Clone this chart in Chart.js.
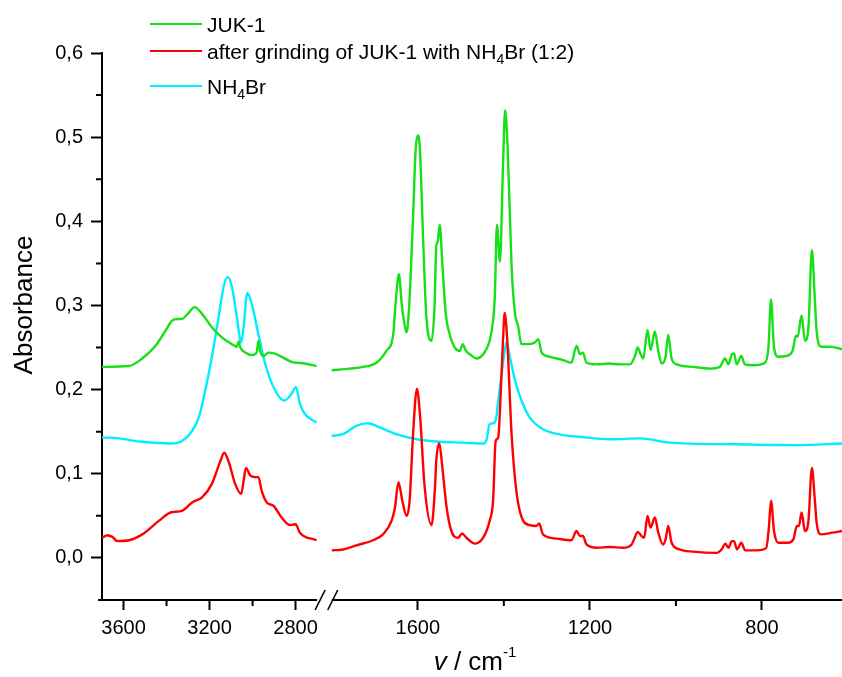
<!DOCTYPE html>
<html>
<head>
<meta charset="utf-8">
<script src="https://cdn.jsdelivr.net/npm/chart.js@4.4.1/dist/chart.umd.min.js"></script>
<style>
  html, body { margin: 0; padding: 0; background: #fff; }
  #wrap { width: 842px; height: 677px; }
</style>
</head>
<body>
<div id="wrap"><canvas id="irChart" width="842" height="677"></canvas></div>
<script>
// x axis is broken: two wavenumber ranges (cm-1), left one drawn at half scale
const leftRange = [3700, 2700];
const rightRange = [1800, 614];
const majorTicks = [3600, 3200, 2800, 1600, 1200, 800];
const minorTicks = [3400, 3000, 1400, 1000];
const yTicks = [0, 0.1, 0.2, 0.3, 0.4, 0.5, 0.6];
const yMinorTicks = [0.05, 0.15, 0.25, 0.35, 0.45, 0.55];

const seriesLabels = ['JUK-1', 'after grinding of JUK-1 with NH_4Br (1:2)', 'NH_4Br'];
const seriesColors = ['#18e018', '#ff0000', '#00eeff'];

// JUK-1
const jukWn = [3700, 3575, 3513, 3451, 3405, 3374, 3350, 3328, 3305, 3269, 3235, 3189, 3143, 3096, 3073, 3065, 3057, 3034, 3004, 2981, 2973, 2965, 2950, 2926, 2900, 2865, 2819, 2757, 2703,
  1800, 1758, 1727, 1696, 1673, 1657, 1652, 1644, 1637, 1630, 1626, 1620, 1611, 1605, 1600, 1595, 1588, 1580, 1568, 1561, 1557, 1554, 1549, 1543, 1535, 1526, 1514, 1502, 1496, 1488, 1479, 1463, 1448, 1433, 1425, 1421, 1416, 1409, 1402, 1397, 1391, 1382, 1374, 1367, 1359, 1347, 1328, 1320, 1312, 1293, 1262, 1243, 1231, 1223, 1216, 1208, 1184, 1157, 1130, 1107, 1095, 1089, 1082, 1076, 1066, 1059, 1049, 1041, 1033, 1024, 1018, 1010, 998, 960, 921, 898, 886, 878, 870, 865, 859, 848, 840, 820, 793, 785, 779, 772, 762, 743, 729, 721, 717, 708, 700, 692, 684, 677, 673, 663, 642, 614];
const jukAbs = [0.227, 0.228, 0.237, 0.252, 0.270, 0.282, 0.284, 0.284, 0.289, 0.298, 0.290, 0.274, 0.262, 0.254, 0.251, 0.257, 0.250, 0.244, 0.241, 0.244, 0.258, 0.246, 0.240, 0.244, 0.243, 0.239, 0.233, 0.231, 0.228,
  0.223, 0.225, 0.227, 0.232, 0.246, 0.266, 0.300, 0.337, 0.300, 0.275, 0.268, 0.300, 0.405, 0.485, 0.502, 0.485, 0.385, 0.286, 0.258, 0.300, 0.371, 0.375, 0.396, 0.350, 0.290, 0.266, 0.250, 0.246, 0.254, 0.246, 0.242, 0.237, 0.242, 0.258, 0.282, 0.310, 0.396, 0.352, 0.465, 0.532, 0.485, 0.346, 0.290, 0.276, 0.254, 0.254, 0.256, 0.260, 0.244, 0.239, 0.235, 0.232, 0.252, 0.242, 0.244, 0.232, 0.230, 0.231, 0.230, 0.230, 0.240, 0.250, 0.242, 0.237, 0.271, 0.247, 0.269, 0.246, 0.231, 0.239, 0.265, 0.237, 0.230, 0.227, 0.225, 0.227, 0.237, 0.230, 0.242, 0.243, 0.230, 0.240, 0.230, 0.229, 0.232, 0.250, 0.307, 0.250, 0.239, 0.240, 0.246, 0.264, 0.263, 0.288, 0.258, 0.274, 0.366, 0.306, 0.270, 0.251, 0.251, 0.248];

// after grinding with NH4Br
const mixWn = [3700, 3675, 3652, 3629, 3575, 3513, 3436, 3381, 3328, 3281, 3235, 3189, 3150, 3132, 3112, 3081, 3053, 3042, 3031, 3011, 2988, 2973, 2958, 2934, 2903, 2865, 2826, 2800, 2780, 2703,
  1800, 1774, 1743, 1704, 1681, 1661, 1653, 1645, 1636, 1626, 1619, 1611, 1602, 1595, 1584, 1568, 1560, 1557, 1550, 1543, 1533, 1522, 1506, 1497, 1487, 1467, 1448, 1433, 1425, 1419, 1413, 1408, 1402, 1398, 1392, 1382, 1370, 1355, 1340, 1324, 1318, 1309, 1277, 1243, 1231, 1223, 1216, 1208, 1184, 1153, 1123, 1103, 1095, 1089, 1080, 1074, 1066, 1059, 1049, 1041, 1030, 1024, 1018, 1010, 991, 960, 905, 894, 885, 878, 870, 865, 858, 848, 839, 812, 790, 784, 779, 772, 762, 740, 727, 719, 714, 708, 700, 692, 684, 677, 673, 663, 637, 614];
const mixAbs = [0.024, 0.027, 0.025, 0.020, 0.021, 0.028, 0.044, 0.054, 0.056, 0.066, 0.072, 0.088, 0.115, 0.125, 0.115, 0.088, 0.076, 0.091, 0.107, 0.098, 0.096, 0.096, 0.080, 0.066, 0.062, 0.048, 0.039, 0.040, 0.030, 0.021,
  0.009, 0.010, 0.015, 0.021, 0.028, 0.044, 0.060, 0.090, 0.068, 0.050, 0.068, 0.147, 0.201, 0.171, 0.084, 0.039, 0.084, 0.116, 0.136, 0.108, 0.060, 0.032, 0.024, 0.029, 0.024, 0.017, 0.024, 0.044, 0.068, 0.139, 0.143, 0.187, 0.258, 0.291, 0.258, 0.147, 0.076, 0.044, 0.039, 0.038, 0.041, 0.028, 0.023, 0.021, 0.032, 0.026, 0.026, 0.016, 0.012, 0.013, 0.012, 0.016, 0.025, 0.031, 0.026, 0.024, 0.050, 0.036, 0.048, 0.030, 0.016, 0.022, 0.038, 0.018, 0.010, 0.0075, 0.006, 0.010, 0.017, 0.012, 0.020, 0.020, 0.010, 0.018, 0.009, 0.009, 0.012, 0.036, 0.068, 0.032, 0.018, 0.018, 0.022, 0.038, 0.038, 0.054, 0.032, 0.044, 0.107, 0.068, 0.042, 0.028, 0.030, 0.032];

// NH4Br
const nhWn = [3700, 3667, 3513, 3381, 3328, 3281, 3250, 3220, 3189, 3158, 3135, 3116, 3096, 3073, 3053, 3042, 3024, 3004, 2973, 2942, 2895, 2852, 2819, 2798, 2780, 2757, 2703,
  1800, 1774, 1743, 1716, 1688, 1650, 1603, 1549, 1495, 1448, 1440, 1433, 1425, 1419, 1413, 1405, 1398, 1394, 1386, 1374, 1359, 1340, 1309, 1262, 1225, 1153, 1084, 1014, 859, 719, 614];
const nhAbs = [0.143, 0.143, 0.138, 0.136, 0.139, 0.151, 0.167, 0.199, 0.239, 0.286, 0.322, 0.334, 0.322, 0.286, 0.256, 0.274, 0.315, 0.302, 0.266, 0.231, 0.199, 0.187, 0.195, 0.203, 0.183, 0.171, 0.161,
  0.145, 0.147, 0.157, 0.160, 0.155, 0.147, 0.141, 0.138, 0.137, 0.136, 0.141, 0.159, 0.160, 0.163, 0.187, 0.219, 0.246, 0.256, 0.239, 0.211, 0.187, 0.167, 0.153, 0.146, 0.144, 0.141, 0.142, 0.137, 0.135, 0.134, 0.136];

const FONT = '"Liberation Sans", Arial, sans-serif';
const GAP = 34; // axis units left empty at the break
const split = (leftRange[0] - leftRange[1]) / 2;

function toAxis(wn) {
  if (wn >= (leftRange[1] + rightRange[0]) / 2) return (leftRange[0] - wn) / 2;
  return split + GAP + (rightRange[0] - wn);
}
function fromAxis(u) {
  return u <= split ? leftRange[0] - 2 * u : rightRange[0] - (u - split - GAP);
}

function buildPoints(wn, abs) {
  const pts = [];
  for (let i = 0; i < wn.length; i++) {
    if (i > 0 && wn[i - 1] >= leftRange[1] && wn[i] <= rightRange[0]) {
      pts.push({ x: split + GAP / 2, y: null });
    }
    pts.push({ x: toAxis(wn[i]), y: abs[i] });
  }
  return pts;
}

const seriesData = [buildPoints(jukWn, jukAbs), buildPoints(mixWn, mixAbs), buildPoints(nhWn, nhAbs)];

function drawRich(ctx, text, x, y, size) {
  // "_4" marks a subscript digit
  const parts = text.split(/_(\d)/);
  for (let i = 0; i < parts.length; i++) {
    if (!parts[i]) continue;
    const sub = i % 2 === 1;
    ctx.font = (sub ? Math.round(size * 0.68) : size) + 'px ' + FONT;
    ctx.fillText(parts[i], x, sub ? y + 5 : y);
    x += ctx.measureText(parts[i]).width;
  }
}

const decor = {
  id: 'decor',
  afterDraw(chart) {
    const ctx = chart.ctx;
    const xs = chart.scales.x, ys = chart.scales.y;
    const area = chart.chartArea;
    const bottom = area.bottom;
    ctx.save();
    ctx.strokeStyle = '#000';
    ctx.fillStyle = '#000';
    ctx.lineWidth = 2;

    // broken x axis line
    const xl = xs.getPixelForValue(split), xr = xs.getPixelForValue(split + GAP);
    ctx.beginPath();
    ctx.moveTo(area.left - 4, bottom); ctx.lineTo(xl, bottom);
    ctx.moveTo(xr, bottom); ctx.lineTo(area.right, bottom);
    ctx.stroke();
    ctx.lineWidth = 1.6;
    ctx.beginPath();
    [xl + 3, xr + 1].forEach(cx => {
      ctx.moveTo(cx - 5, bottom + 10); ctx.lineTo(cx + 5, bottom - 10);
    });
    ctx.stroke();

    // minor ticks
    ctx.lineWidth = 2;
    ctx.beginPath();
    minorTicks.forEach(w => {
      const px = xs.getPixelForValue(toAxis(w));
      ctx.moveTo(px, bottom); ctx.lineTo(px, bottom + 6);
    });
    yMinorTicks.forEach(v => {
      const py = ys.getPixelForValue(v);
      ctx.moveTo(area.left, py); ctx.lineTo(area.left - 6, py);
    });
    ctx.stroke();

    // axis titles
    ctx.textBaseline = 'alphabetic';
    ctx.save();
    ctx.translate(32, 305);
    ctx.rotate(-Math.PI / 2);
    ctx.textAlign = 'center';
    ctx.font = '26px ' + FONT;
    ctx.fillText('Absorbance', 0, 0);
    ctx.restore();

    ctx.textAlign = 'left';
    const pieces = [['v', 'italic 26px '], [' / cm', '26px '], ['-1', '15px ']];
    let total = 0;
    pieces.forEach(p => { ctx.font = p[1] + FONT; total += ctx.measureText(p[0]).width; });
    let tx = 475 - total / 2;
    pieces.forEach((p, i) => {
      ctx.font = p[1] + FONT;
      ctx.fillText(p[0], tx, i === 2 ? 657 : 670);
      tx += ctx.measureText(p[0]).width;
    });

    // legend
    const rows = [24, 51, 86];
    chart.data.datasets.forEach((ds, i) => {
      ctx.strokeStyle = ds.borderColor;
      ctx.lineWidth = 2;
      ctx.beginPath();
      ctx.moveTo(150, rows[i]); ctx.lineTo(202, rows[i]);
      ctx.stroke();
      ctx.fillStyle = '#000';
      drawRich(ctx, ds.label, 207, rows[i] + 8, 21);
    });
    ctx.restore();
  }
};

new Chart(document.getElementById('irChart').getContext('2d'), {
  type: 'line',
  data: {
    datasets: seriesData.map((pts, i) => ({
      label: seriesLabels[i],
      data: pts,
      borderColor: seriesColors[i],
      backgroundColor: seriesColors[i],
      borderWidth: 2.4,
      pointRadius: 0,
      fill: false,
      spanGaps: false,
      cubicInterpolationMode: 'monotone'
    }))
  },
  options: {
    responsive: false,
    animation: false,
    devicePixelRatio: 1,
    layout: { padding: { top: 53, left: 0, right: 0, bottom: 0 } },
    plugins: { legend: { display: false }, tooltip: { enabled: false } },
    scales: {
      x: {
        type: 'linear',
        min: 0,
        max: toAxis(rightRange[1]),
        afterBuildTicks: s => { s.ticks = majorTicks.map(w => ({ value: toAxis(w) })); },
        afterFit: s => { s.height = 77; },
        ticks: {
          autoSkip: false, maxRotation: 0, padding: 6, color: '#000',
          font: { family: FONT, size: 20 },
          callback: v => String(Math.round(fromAxis(v)))
        },
        grid: { drawOnChartArea: false, drawTicks: true, tickLength: 10, tickWidth: 2, tickColor: '#000' },
        border: { display: false }
      },
      y: {
        min: -0.05,
        max: 0.6,
        afterBuildTicks: s => { s.ticks = yTicks.map(v => ({ value: v })); },
        afterFit: s => { s.width = 102; },
        ticks: {
          padding: 8, color: '#000',
          font: { family: FONT, size: 20 },
          callback: v => v.toFixed(1).replace('.', ',')
        },
        grid: { drawOnChartArea: false, drawTicks: true, tickLength: 11, tickWidth: 2, tickColor: '#000' },
        border: { display: true, color: '#000', width: 2 }
      }
    }
  },
  plugins: [decor]
});
</script>
</body>
</html>
